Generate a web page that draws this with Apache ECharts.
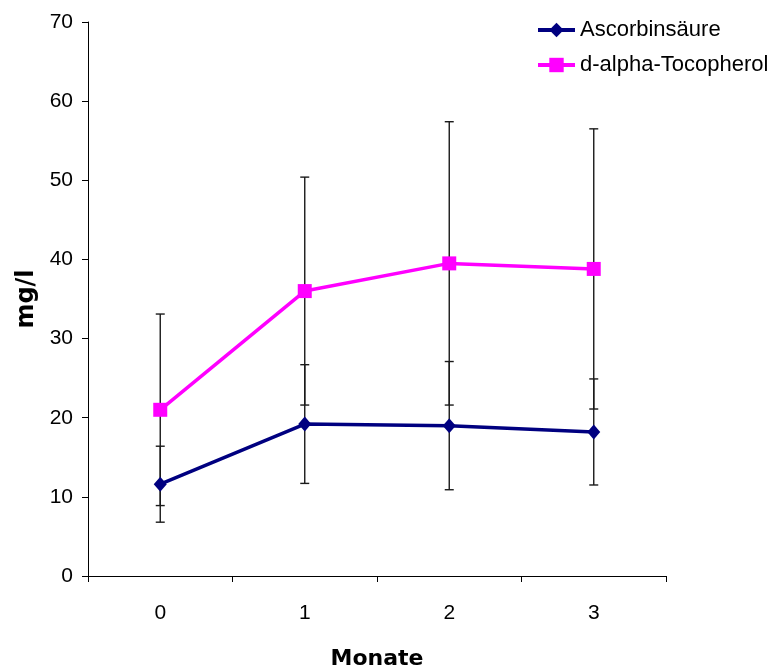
<!DOCTYPE html>
<html>
<head>
<meta charset="utf-8">
<script src="https://cdn.jsdelivr.net/npm/echarts@6/dist/echarts.min.js"></script>
<style>html,body{margin:0;padding:0;background:#fff;}#c{width:768px;height:668px;}</style>
</head>
<body>
<div id="c"></div>
<script>
var categories = ['0', '1', '2', '3'];
var ascorbinMean = [11.6, 19.2, 19.0, 18.2];
var ascorbinErr = [4.8, 7.5, 8.1, 6.7];
var tocoMean = [21.0, 36.0, 39.5, 38.8];
var tocoErr = [12.1, 14.4, 17.9, 17.7];
var yTicks = [0, 10, 20, 30, 40, 50, 60, 70];

var FONT = 'Liberation Sans, Arial, sans-serif';
var BOLDFONT = 'DejaVu Sans, Liberation Sans, sans-serif';

function errData(mean, err) {
  return mean.map(function (m, i) { return [i, m - err[i], m + err[i]]; });
}
function errSeries(name, mean, err) {
  return {
    type: 'custom',
    name: name + ' err',
    z: 1,
    silent: true,
    data: errData(mean, err),
    encode: { x: 0, y: [1, 2] },
    renderItem: function (params, api) {
      var x = api.value(0);
      var lo = api.coord([x, api.value(1)]);
      var hi = api.coord([x, api.value(2)]);
      var hw = 4.5;
      var st = { stroke: '#1a1a1a', lineWidth: 1.4 };
      return {
        type: 'group',
        children: [
          { type: 'line', shape: { x1: lo[0], y1: lo[1], x2: hi[0], y2: hi[1] }, style: st },
          { type: 'line', shape: { x1: lo[0] - hw, y1: lo[1], x2: lo[0] + hw, y2: lo[1] }, style: st },
          { type: 'line', shape: { x1: hi[0] - hw, y1: hi[1], x2: hi[0] + hw, y2: hi[1] }, style: st }
        ]
      };
    }
  };
}

var chart = echarts.init(document.getElementById('c'), null, { renderer: 'canvas' });
chart.setOption({
  animation: false,
  backgroundColor: '#fff',
  grid: { left: 88, right: 102, top: 22, bottom: 92, containLabel: false, outerBoundsMode: 'none' },
  legend: {
    orient: 'vertical',
    left: 536,
    top: 19,
    padding: 0,
    itemGap: 13,
    itemWidth: 37,
    itemHeight: 18,
    lineStyle: { width: 4 },
    textStyle: { fontFamily: FONT, fontSize: 22, color: '#000' },
    data: ['Ascorbinsäure', 'd-alpha-Tocopherol']
  },
  xAxis: {
    type: 'category',
    data: categories,
    boundaryGap: true,
    name: 'Monate',
    nameLocation: 'middle',
    nameGap: 72,
    nameTextStyle: { fontFamily: BOLDFONT, fontSize: 22, fontWeight: 'bold', color: '#000' },
    axisLine: { lineStyle: { color: '#000', width: 1 } },
    axisTick: { show: true, alignWithLabel: false, length: 6, lineStyle: { color: '#000' } },
    axisLabel: { fontFamily: FONT, fontSize: 21, color: '#000', margin: 27 },
    splitLine: { show: false }
  },
  yAxis: {
    type: 'value',
    min: yTicks[0],
    max: yTicks[yTicks.length - 1],
    interval: 10,
    name: 'mg/l',
    nameLocation: 'middle',
    nameGap: 48,
    nameTextStyle: { fontFamily: BOLDFONT, fontSize: 24, fontWeight: 'bold', color: '#000' },
    axisLine: { show: true, lineStyle: { color: '#000', width: 1 } },
    axisTick: { show: true, inside: false, length: 6, lineStyle: { color: '#000' } },
    axisLabel: { fontFamily: FONT, fontSize: 21, color: '#000', margin: 15 },
    splitLine: { show: false }
  },
  series: [
    errSeries('Ascorbinsäure', ascorbinMean, ascorbinErr),
    errSeries('d-alpha-Tocopherol', tocoMean, tocoErr),
    {
      name: 'Ascorbinsäure',
      type: 'line',
      z: 3,
      data: ascorbinMean,
      symbol: 'diamond',
      symbolSize: [13, 15],
      color: '#000080',
      lineStyle: { color: '#000080', width: 3.5 },
      itemStyle: { color: '#000080' }
    },
    {
      name: 'd-alpha-Tocopherol',
      type: 'line',
      z: 4,
      data: tocoMean,
      symbol: 'rect',
      symbolSize: 14,
      color: '#ff00ff',
      lineStyle: { color: '#ff00ff', width: 3.5 },
      itemStyle: { color: '#ff00ff' }
    }
  ]
});
</script>
</body>
</html>
